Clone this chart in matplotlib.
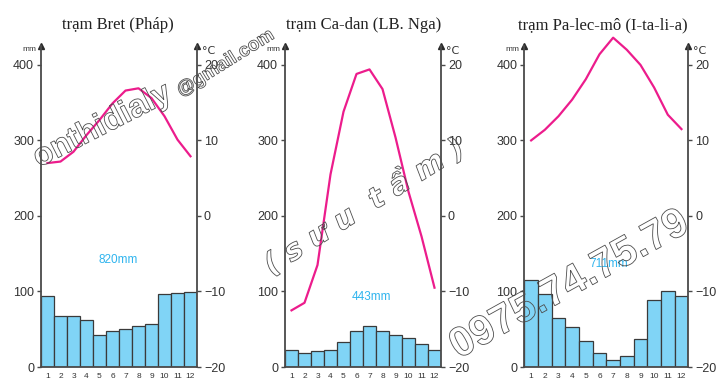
import matplotlib
matplotlib.use('Agg')
import matplotlib.pyplot as plt
from matplotlib.textpath import TextPath
from matplotlib.patches import PathPatch
from matplotlib.font_manager import FontProperties
from matplotlib.transforms import Affine2D

MONTHS = list(range(1, 13))

TITLES = ["trạm Bret (Pháp)", "trạm Ca-dan (LB. Nga)", "trạm Pa-lec-mô (I-ta-li-a)"]
TOTALS = ["820mm", "443mm", "711mm"]

BRET_RAIN = [94, 67, 67, 62, 43, 48, 50, 54, 57, 96, 98, 99]
BRET_TEMP = [7.0, 7.2, 8.5, 10.7, 12.7, 14.9, 16.6, 16.9, 15.6, 13.2, 10.1, 7.9]

CADAN_RAIN = [23, 19, 21, 23, 33, 48, 54, 48, 43, 39, 30, 23]
CADAN_TEMP = [-12.5, -11.5, -6.5, 5.5, 13.8, 18.8, 19.4, 16.8, 10.4, 3.2, -2.7, -9.5]

PALERMO_RAIN = [115, 96, 65, 53, 35, 18, 9, 14, 37, 89, 101, 94]
PALERMO_TEMP = [10.0, 11.4, 13.2, 15.4, 18.1, 21.4, 23.6, 22.0, 20.0, 17.0, 13.4, 11.5]

RAIN_TICKS = [0, 100, 200, 300, 400]
TEMP_TICKS = [-20, -10, 0, 10, 20]

W, H = 723, 391
C_BAR = "#80d4f6"
C_EDGE = "#3a3a3a"
C_AXIS = "#4a4a4a"
C_TEXT = "#333333"
C_LINE = "#ec1c8c"
C_TOTAL = "#2fb4ee"

# pixel layout of each panel: left spine, right spine, title centre, total label (data coords)
PANELS = [
    (41, 197, 118, (6.45, 142)),
    (285, 441, 364, (7.17, 93)),
    (524.3, 688.3, 602.5, (6.65, 137)),
]
Y_BOTTOM, Y_TOP = 367, 46

plt.rcParams['font.family'] = ['Liberation Sans Narrow', 'Liberation Sans', 'DejaVu Sans']


def draw_panel(fig, panel, title, total, rain, temp):
    x0, x1, tcx, (lx, ly) = panel
    ax = fig.add_axes([x0 / W, 1 - Y_BOTTOM / H, (x1 - x0) / W, (Y_BOTTOM - Y_TOP) / H])
    ax.bar(MONTHS, rain, width=1, color=C_BAR, edgecolor=C_EDGE, linewidth=0.9, zorder=2)
    ax.set_xlim(0.5, 12.5)
    ax.set_ylim(0, 425)
    ax.set_yticks(RAIN_TICKS)
    ax.set_xticks(MONTHS)
    ax.tick_params(axis='y', direction='out', length=3, width=1, color=C_AXIS,
                   labelsize=9, pad=2, labelcolor=C_TEXT)
    ax.tick_params(axis='x', length=0, labelsize=6, pad=4, labelcolor=C_TEXT)
    for s in ['top', 'right']:
        ax.spines[s].set_visible(False)
    for s in ['left', 'bottom']:
        ax.spines[s].set_color(C_AXIS)
        ax.spines[s].set_linewidth(1.3)
    ax.text(lx, ly, total, ha='center', va='center', color=C_TOTAL, fontsize=8.5)

    tx = ax.twinx()
    tx.plot(MONTHS, temp, color=C_LINE, lw=1.6, clip_on=False, zorder=3)
    tx.set_ylim(-20, 22.5)
    tx.set_yticks(TEMP_TICKS)
    tx.tick_params(axis='y', direction='out', length=3, width=1, color=C_AXIS,
                   labelsize=9, pad=2, labelcolor=C_TEXT)
    for s in ['top', 'left', 'bottom']:
        tx.spines[s].set_visible(False)
    tx.spines['right'].set_color(C_AXIS)
    tx.spines['right'].set_linewidth(1.3)

    for xa in (0, 1):
        ax.plot([xa], [1], marker='^', ms=5, color='#2a2a2a', transform=ax.transAxes,
                clip_on=False)
    ax.text(-0.03, 0.988, "mm", transform=ax.transAxes, ha='right', va='center',
            fontsize=6, color=C_TEXT)
    ax.text(1.03, 0.985, "°C", transform=ax.transAxes, ha='left', va='center',
            fontsize=8, color=C_TEXT, family='DejaVu Sans')

    fig.text(tcx / W, 1 - 29 / H, title, ha='center', va='baseline', fontsize=12,
             family='Liberation Serif', color='#222222')


def watermark(fig, x, y, s, size, angle, family, style='normal', anchor='center'):
    # hollow outlined lettering, placed in pixel coords (y from top)
    prop = FontProperties(family=family, style=style, weight='bold')
    tp = TextPath((0, 0), s, size=size * 100 / 72, prop=prop)
    ext = tp.get_extents()
    if anchor == 'center':
        dx, dy = -(ext.x0 + ext.x1) / 2, -(ext.y0 + ext.y1) / 2
    else:
        dx, dy = -ext.x0, 0
    tr = Affine2D().translate(dx, dy).rotate_deg(angle).translate(x, H - y)
    fig.add_artist(PathPatch(tp, transform=tr, facecolor='none', edgecolor='#4d4d4d',
                             lw=0.6, zorder=10))


def main():
    fig = plt.figure(figsize=(W / 100, H / 100), dpi=100)
    data = [(BRET_RAIN, BRET_TEMP), (CADAN_RAIN, CADAN_TEMP), (PALERMO_RAIN, PALERMO_TEMP)]
    for panel, title, total, (rain, temp) in zip(PANELS, TITLES, TOTALS, data):
        draw_panel(fig, panel, title, total, rain, temp)

    watermark(fig, 40, 167, "onthidialy", 23, 27, 'Liberation Sans', anchor='left')
    watermark(fig, 182, 96, "@gmail.com", 13.5, 32, 'Liberation Sans', anchor='left')
    watermark(fig, 363, 205, "( s ư u  t ầ m )", 21, 32, 'DejaVu Sans', style='italic')
    watermark(fig, 568, 282, "0975.74.75.79", 30, 29, 'Liberation Sans')

    fig.savefig("out.png", dpi=100)
    plt.close(fig)


if __name__ == "__main__":
    main()
